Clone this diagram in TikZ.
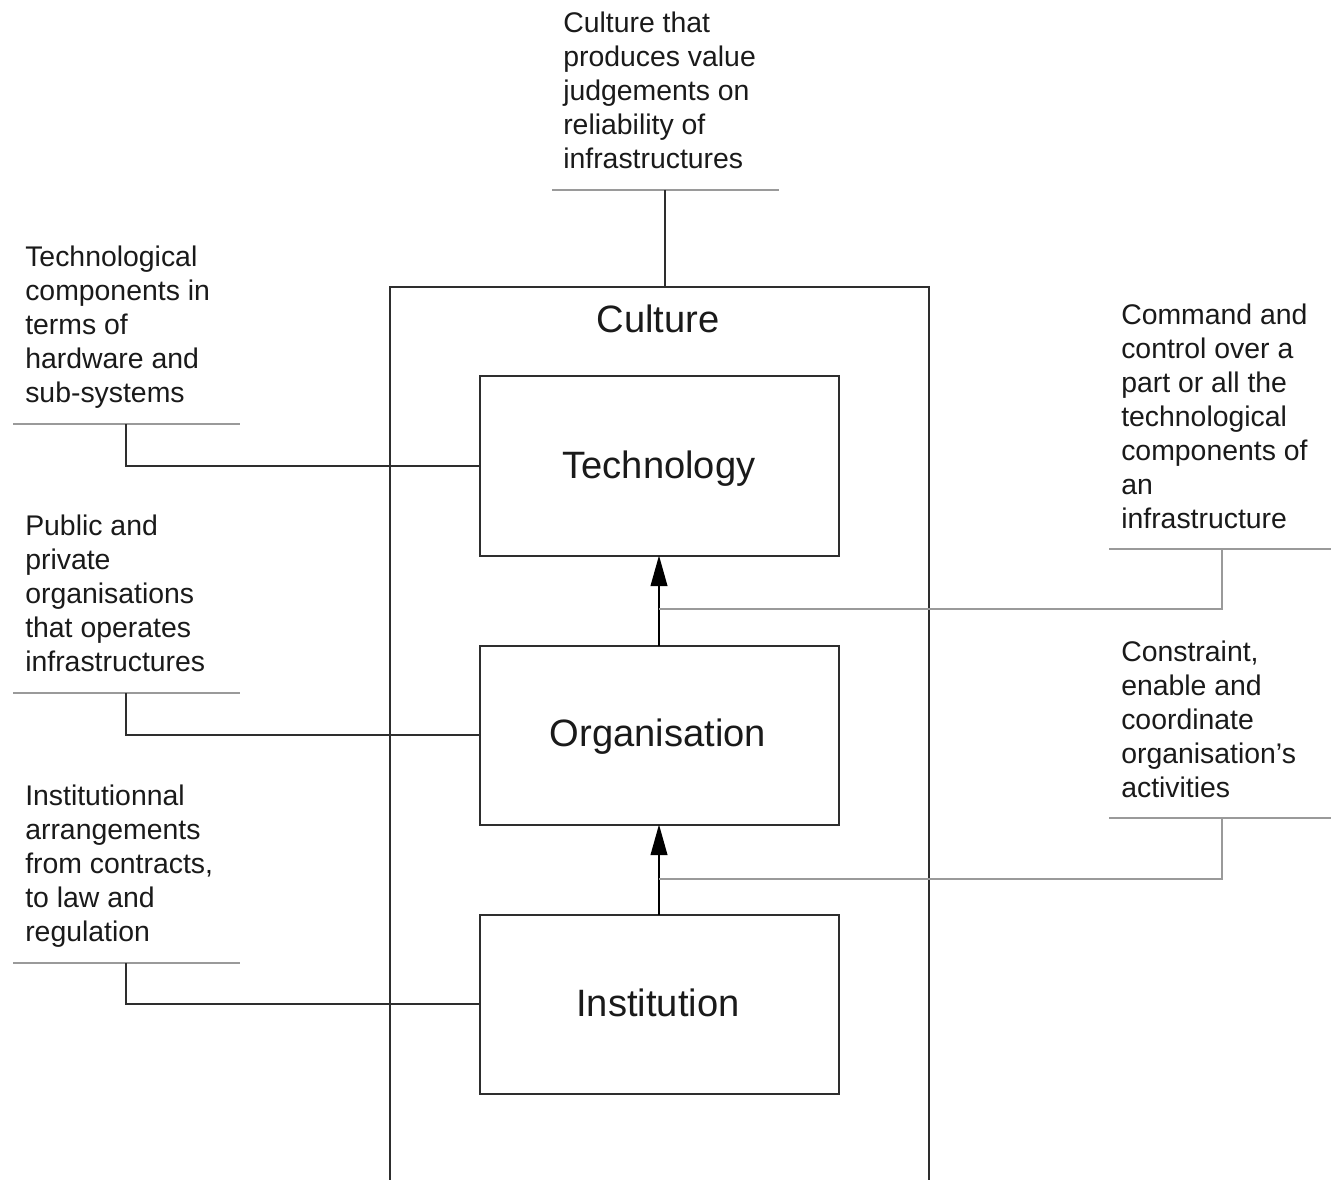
\documentclass[tikz,border=0pt]{standalone}
\usepackage{fontspec}
\setmainfont{Liberation Sans}
\usetikzlibrary{arrows.meta}
\definecolor{ink}{HTML}{1A1A1A}
\definecolor{dark}{HTML}{2E2E2E}
\definecolor{lightline}{HTML}{9A9A9A}
\tikzset{
  box/.style={draw=dark, line width=1.5pt, minimum width=269.25pt, minimum height=134.25pt, inner sep=0pt, outer sep=0pt},
  boxlabel/.style={font=\fontsize{28.6pt}{33pt}\selectfont, text=ink, inner sep=0pt},
  anno/.style={font=\fontsize{21.3pt}{25.5pt}\selectfont, text=ink, align=left, inner sep=0pt, anchor=north west},
  rule/.style={draw=lightline, line width=1.5pt},
  darklink/.style={draw=dark, line width=1.2pt},
  greylink/.style={draw=lightline, line width=1.5pt},
  uparrow/.style={draw=black, line width=1.5pt, -{Triangle[length=23pt,width=12.5pt]}},
}
\begin{document}
\begin{tikzpicture}[x=0.75pt,y=-0.75pt]
\useasboundingbox (0,0) rectangle (1331,1180);
\fill[white] (0,0) rectangle (1331,1180);

% Culture box (open at bottom)
\draw[draw=dark, line width=1.5pt] (390,1185) -- (390,287) -- (929,287) -- (929,1185);
\coordinate (culturetop) at (665,287);
\node[boxlabel, anchor=base] (culturelbl) at (658,333) {Culture};

% Inner boxes
\node[box] (tech) at (659.5,466) {};
\node[boxlabel, anchor=base] (techlbl) at (659,478) {Technology};
\node[box] (org) at (659.5,735) {};
\node[boxlabel, anchor=base] (orglbl) at (658,746) {Organisation};
\node[box] (inst) at (659.5,1004) {};
\node[boxlabel, anchor=base] (instlbl) at (658,1016) {Institution};

% Arrows
\draw[uparrow] (org.north -| 659,0) -- (tech.south -| 659,0);
\draw[uparrow] (inst.north -| 659,0) -- (org.south -| 659,0);
\coordinate (a1) at (659,609);
\coordinate (a2) at (659,879);

% Top annotation
\node[anno] (ttop) at (563,12) {Culture that\\produces value\\judgements on\\reliability of\\infrastructures};
\draw[rule] (552,190) -- (779,190);
\coordinate (ctop) at (665,190);
\draw[darklink] (ctop) -- (culturetop);

% Left annotations
\node[anno] (l1) at (25,246) {Technological\\components in\\terms of\\hardware and\\sub-systems};
\draw[rule] (13,424) -- (240,424);
\coordinate (cl1) at (126,424);
\draw[darklink] (cl1) |- (tech.west);

\node[anno] (l2) at (25,515) {Public and\\private\\organisations\\that operates\\infrastructures};
\draw[rule] (13,693) -- (240,693);
\coordinate (cl2) at (126,693);
\draw[darklink] (cl2) |- (org.west);

\node[anno] (l3) at (25,785) {Institutionnal\\arrangements\\from contracts,\\to law and\\regulation};
\draw[rule] (13,963) -- (240,963);
\coordinate (cl3) at (126,963);
\draw[darklink] (cl3) |- (inst.west);

% Right annotations
\node[anno] (r1) at (1121,304) {Command and\\control over a\\part or all the\\technological\\components of\\an\\infrastructure};
\draw[rule] (1109,549) -- (1331,549);
\coordinate (cr1) at (1222,549);
\draw[greylink] (cr1) |- (a1);

\node[anno] (r2) at (1121,641) {Constraint,\\enable and\\coordinate\\organisation’s\\activities};
\draw[rule] (1109,818) -- (1331,818);
\coordinate (cr2) at (1222,818);
\draw[greylink] (cr2) |- (a2);
\end{tikzpicture}
\end{document}
